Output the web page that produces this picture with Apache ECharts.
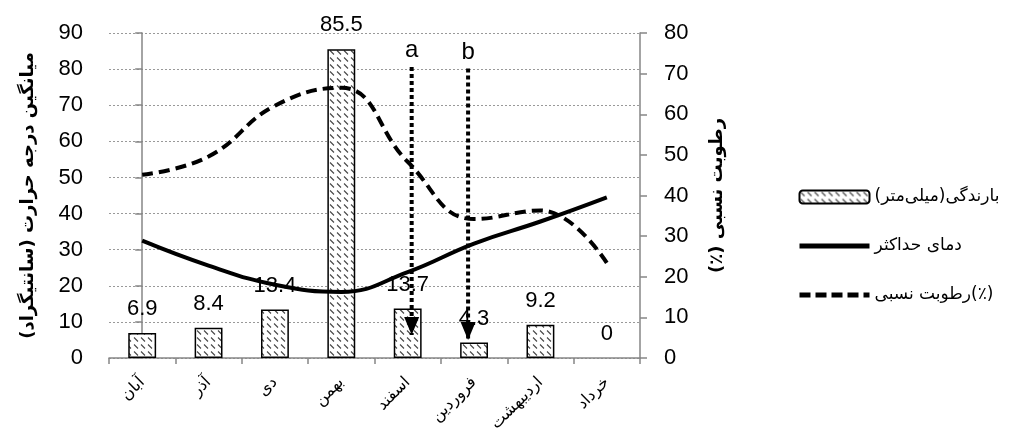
<!DOCTYPE html>
<html><head><meta charset="utf-8">
<script src="https://cdn.jsdelivr.net/npm/echarts@6/dist/echarts.min.js"></script>
<style>html,body{margin:0;padding:0;background:#fff}#c{width:1011px;height:443px}</style>
</head><body><div id="c"></div>
<script>
// ---- data ----
const months = ['آبان','آذر','دی','بهمن','اسفند','فروردین','اردیبهشت','خرداد'];
const rainfall = [6.9, 8.4, 13.4, 85.5, 13.7, 4.3, 9.2, 0];
const maxTemp = [32.5, 25.6, 20.3, 18.3, 23.8, 31.7, 37.8, 44.5];
const humidity = [45.1, 49.6, 62.1, 66.5, 48.3, 34.2, 36.3, 23.4];
const leftAxisRange = [0, 90, 10];
const rightAxisRange = [0, 80, 10];
// annotation arrows: [label, x position (category units), start value, tip value] on left axis
const arrowA = ['a', 4.06, 80.6, 6.4];
const arrowB = ['b', 4.91, 80.2, 5.0];
const seriesNames = ['بارندگی(میلی‌متر)', 'دمای حداکثر', 'رطوبت نسبی(٪)'];
const leftTitle = 'میانگین درجه حرارت (سانتیگراد)';
const rightTitle = 'رطوبت نسبی (٪)';

const RLM = '\u200F';
const rtl = s => RLM + s + RLM;
const FA = '"DejaVu Sans", sans-serif';
const NUM = '"Liberation Sans", Arial, sans-serif';

function hatch() {
  const c = document.createElement('canvas');
  c.width = 7; c.height = 7;
  const g = c.getContext('2d');
  g.fillStyle = '#fff'; g.fillRect(0, 0, 7, 7);
  g.strokeStyle = '#444'; g.lineWidth = 1.1;
  g.beginPath(); g.moveTo(1, 1.5); g.lineTo(5, 5.5); g.stroke();
  return c;
}
const hatchFill = { image: hatch(), repeat: 'repeat' };

function arrowSeries(arr) {
  return {
    type: 'line', xAxisIndex: 1, yAxisIndex: 0, z: 5, silent: true,
    legendHoverLink: false,
    lineStyle: { color: '#000', width: 4, type: [4, 3], cap: 'butt' },
    data: [
      { value: [arr[1], arr[2]], symbol: 'circle', symbolSize: 1,
        itemStyle: { color: 'rgba(0,0,0,0)', borderWidth: 0 },
        label: { show: true, position: 'top', distance: 4, formatter: arr[0],
                 color: '#000', fontSize: 24, fontFamily: NUM } },
      { value: [arr[1], arr[3]], symbol: 'triangle', symbolRotate: 180,
        symbolSize: [15, 18], symbolOffset: [0, -9],
        itemStyle: { color: '#000', borderWidth: 0 }, label: { show: false } }
    ]
  };
}

const chart = echarts.init(document.getElementById('c'), null, { renderer: 'canvas' });
chart.setOption({
  animation: false,
  backgroundColor: '#fff',
  grid: { left: 109, right: 371, top: 33, bottom: 85 },
  legend: {
    orient: 'vertical', left: 792, top: 182,
    itemWidth: 70, itemHeight: 13, itemGap: 29,
    textStyle: { fontFamily: FA, fontSize: 17, color: '#000', lineHeight: 20 },
    data: [
      { name: seriesNames[0] },
      { name: seriesNames[1], itemStyle: { opacity: 0 }, lineStyle: { width: 5, color: '#000' } },
      { name: seriesNames[2], itemStyle: { opacity: 0 }, lineStyle: { width: 5, color: '#000', type: [11, 5] } }
    ]
  },
  xAxis: [{
    type: 'category', data: months.map(rtl),
    axisLine: { lineStyle: { color: '#868686', width: 1.5 } },
    axisTick: { show: true, length: 6, lineStyle: { color: '#868686', width: 1.5 } },
    axisLabel: { rotate: 45, margin: 22, fontFamily: FA, fontSize: 16, color: '#000' },
    splitLine: { show: false }
  }, {
    type: 'value', min: -0.5, max: 7.5, show: false
  }],
  yAxis: [{
    type: 'value', min: leftAxisRange[0], max: leftAxisRange[1], interval: leftAxisRange[2],
    name: rtl(leftTitle), nameLocation: 'middle', nameRotate: 90, nameGap: 72,
    nameTextStyle: { fontFamily: FA, fontSize: 18, fontWeight: 'bold', color: '#000' },
    axisLine: { show: true, lineStyle: { color: '#868686', width: 1.5 } },
    axisTick: { show: true, length: 7, lineStyle: { color: '#868686', width: 1.5 } },
    axisLabel: { margin: 26, fontFamily: NUM, fontSize: 22, color: '#000' },
    splitLine: { show: true, lineStyle: { color: '#999', type: [2, 2], width: 1 } }
  }, {
    type: 'value', position: 'right',
    min: rightAxisRange[0], max: rightAxisRange[1], interval: rightAxisRange[2],
    name: rtl(rightTitle), nameLocation: 'middle', nameRotate: 90, nameGap: 68,
    nameTextStyle: { fontFamily: FA, fontSize: 18, fontWeight: 'bold', color: '#000' },
    axisLine: { show: true, lineStyle: { color: '#868686', width: 1.5 } },
    axisTick: { show: true, length: 7, lineStyle: { color: '#868686', width: 1.5 } },
    axisLabel: { margin: 24, fontFamily: NUM, fontSize: 22, color: '#000' },
    splitLine: { show: false }
  }],
  series: [{
    name: seriesNames[0], type: 'bar', yAxisIndex: 0,
    data: rainfall.map(v => v === 0 ? { value: v, itemStyle: { borderWidth: 0 } } : v),
    barWidth: '42%', z: 2,
    itemStyle: { color: hatchFill, borderColor: '#000', borderWidth: 1.5 },
    label: { show: true, position: 'top', distance: 13, fontFamily: NUM, fontSize: 22, color: '#000' }
  }, {
    name: seriesNames[1], type: 'line', yAxisIndex: 0, data: maxTemp,
    smooth: 0.45, symbol: 'none', z: 4,
    itemStyle: { color: '#000' },
    lineStyle: { color: '#000', width: 4 }
  }, {
    name: seriesNames[2], type: 'line', yAxisIndex: 1, data: humidity,
    smooth: 0.45, symbol: 'none', z: 4,
    itemStyle: { color: '#000' },
    lineStyle: { color: '#000', width: 4, type: [11, 6] }
  }, arrowSeries(arrowA), arrowSeries(arrowB)]
});
</script></body></html>
